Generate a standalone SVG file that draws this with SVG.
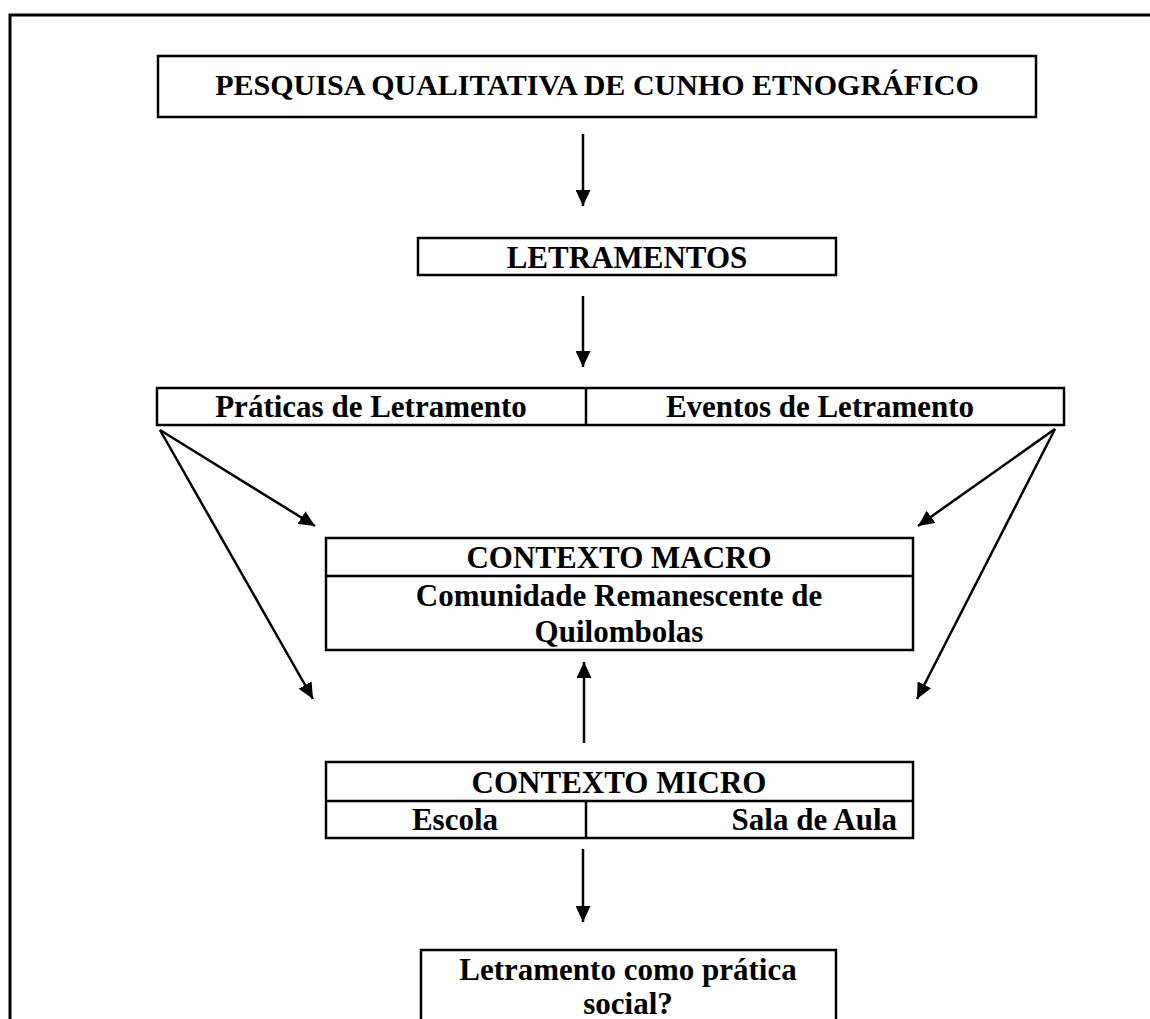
<svg xmlns="http://www.w3.org/2000/svg" width="1150" height="1019" viewBox="0 0 1150 1019">
<style>
.box{fill:#fff;stroke:#000;stroke-width:2.5}
.div{stroke:#000;stroke-width:2.5;fill:none}
.t{font-family:"Liberation Serif","Times New Roman",serif;font-weight:bold;font-size:31px;fill:#000;text-anchor:middle}
.c{stroke:#000;stroke-width:2.5;fill:none;marker-end:url(#ah)}
</style>
<defs>
<marker id="ah" viewBox="0 0 16 15" refX="16" refY="7.5" markerWidth="16" markerHeight="15" markerUnits="userSpaceOnUse" orient="auto">
<path d="M0,0 L16,7.5 L0,15 z" fill="#000"/>
</marker>
</defs>
<rect width="1150" height="1019" fill="#fff"/>
<g id="frame">
<path d="M10,1019 L10,15 L1150,15" fill="none" stroke="#000" stroke-width="3"/>
</g>
<g id="connectors">
<line class="c" x1="583" y1="134" x2="583" y2="206"/>
<line class="c" x1="583" y1="296" x2="583" y2="367"/>
<line class="c" x1="160" y1="430" x2="315" y2="526"/>
<line class="c" x1="160" y1="430" x2="313" y2="699"/>
<line class="c" x1="1055" y1="429" x2="918" y2="526"/>
<line class="c" x1="1055" y1="429" x2="917" y2="699"/>
<line class="c" x1="584" y1="743" x2="584" y2="662"/>
<line class="c" x1="583" y1="849" x2="583" y2="922"/>
</g>
<g id="pesquisa">
<rect class="box" x="158" y="56" width="878" height="61"/>
<text class="t" x="597" y="95" style="font-size:30px">PESQUISA QUALITATIVA DE CUNHO ETNOGRÁFICO</text>
</g>
<g id="letramentos">
<rect class="box" x="418" y="238" width="418" height="37"/>
<text class="t" x="627" y="268">LETRAMENTOS</text>
</g>
<g id="praticas-eventos">
<rect class="box" x="157" y="388" width="907" height="37"/>
<line class="div" x1="586" y1="388" x2="586" y2="425"/>
<text class="t" x="371" y="417">Práticas de Letramento</text>
<text class="t" x="820" y="417">Eventos de Letramento</text>
</g>
<g id="contexto-macro">
<rect class="box" x="326" y="538" width="587" height="112"/>
<line class="div" x1="326" y1="576" x2="913" y2="576"/>
<text class="t" x="619" y="568">CONTEXTO MACRO</text>
<text class="t" x="619" y="606">Comunidade Remanescente de</text>
<text class="t" x="619" y="642">Quilombolas</text>
</g>
<g id="contexto-micro">
<rect class="box" x="326" y="762" width="587" height="76"/>
<line class="div" x1="326" y1="801" x2="913" y2="801"/>
<line class="div" x1="586" y1="801" x2="586" y2="838"/>
<text class="t" x="619" y="793">CONTEXTO MICRO</text>
<text class="t" x="455" y="830">Escola</text>
<text class="t" x="897" y="830" style="text-anchor:end">Sala de Aula</text>
</g>
<g id="letramento-pratica-social">
<rect class="box" x="421" y="950" width="415" height="90"/>
<text class="t" x="628" y="980">Letramento como prática</text>
<text class="t" x="628" y="1014">social?</text>
</g>
</svg>
